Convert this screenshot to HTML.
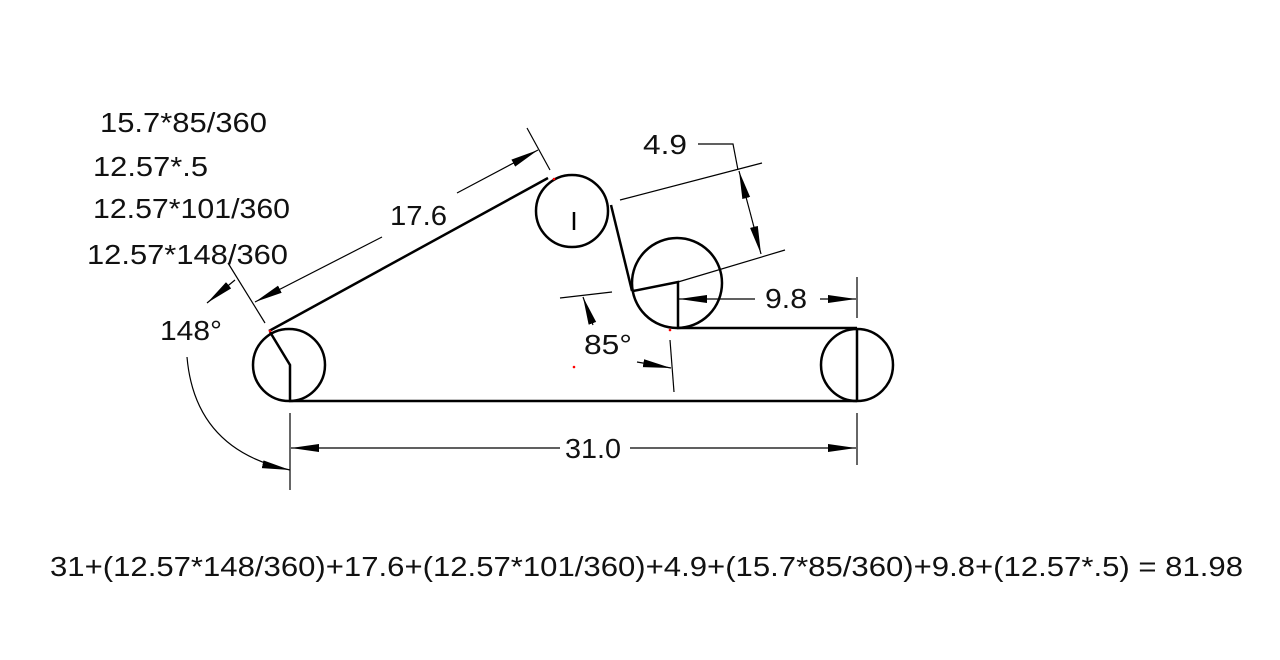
<!DOCTYPE html>
<html><head><meta charset="utf-8"><style>
html,body{margin:0;padding:0;background:#fff;width:1280px;height:660px;overflow:hidden}
svg text{font-family:"Liberation Sans",sans-serif;font-size:28px;fill:#111}
</style></head><body>
<svg width="1280" height="660" viewBox="0 0 1280 660" xmlns="http://www.w3.org/2000/svg">
<defs>
<marker id="a" viewBox="0 0 28 10" refX="28" refY="5" markerWidth="28" markerHeight="10" markerUnits="userSpaceOnUse" orient="auto-start-reverse"><path d="M0,1 L28,5 L0,9 Z" fill="#000"/></marker>
</defs>
<g fill="none" stroke="#000" stroke-width="2.5">
<circle cx="289" cy="365" r="36"/>
<circle cx="572" cy="211" r="36"/>
<circle cx="677" cy="283" r="45"/>
<circle cx="857" cy="365" r="36"/>
<line x1="289" y1="401" x2="857" y2="401"/>
<line x1="269" y1="331" x2="548" y2="178"/>
<line x1="611" y1="205" x2="632" y2="291"/>
<line x1="677" y1="328" x2="857" y2="328"/>
<polyline points="633,291 678,282 678,328"/>
<polyline points="270,332 290,365 290,402"/>
<line x1="574" y1="212" x2="574" y2="230"/>
<line x1="857" y1="328" x2="857" y2="402"/>
</g>
<g fill="none" stroke="#000" stroke-width="1.2">
<line x1="228" y1="263" x2="265" y2="323"/>
<line x1="527" y1="128" x2="550" y2="170"/>
<line x1="382" y1="237" x2="255" y2="302" marker-end="url(#a)"/>
<line x1="457" y1="193" x2="538" y2="150" marker-end="url(#a)"/>
<line x1="235" y1="280" x2="207" y2="303" marker-end="url(#a)"/>
<path d="M187,357 Q195,450 290,470" marker-end="url(#a)"/>
<line x1="290" y1="413" x2="290" y2="490"/>
<line x1="857" y1="413" x2="857" y2="465"/>
<line x1="560" y1="448" x2="291" y2="448" marker-end="url(#a)"/>
<line x1="630" y1="448" x2="856" y2="448" marker-end="url(#a)"/>
<line x1="620" y1="200" x2="762" y2="163"/>
<line x1="678" y1="282" x2="785" y2="250"/>
<polyline points="698,144 733,144 738,170"/>
<line x1="750" y1="212" x2="739" y2="171" marker-end="url(#a)"/>
<line x1="750" y1="212" x2="761" y2="254" marker-end="url(#a)"/>
<line x1="857" y1="277" x2="857" y2="318"/>
<line x1="755" y1="299" x2="679" y2="299" marker-end="url(#a)"/>
<line x1="820" y1="299" x2="856" y2="299" marker-end="url(#a)"/>
<line x1="560" y1="298" x2="612" y2="292"/>
<line x1="670" y1="340" x2="674" y2="392"/>
<line x1="593" y1="325" x2="583" y2="297" marker-end="url(#a)"/>
<line x1="637" y1="362" x2="671" y2="368" marker-end="url(#a)"/>
</g>
<g fill="red"><circle cx="574" cy="367" r="1.3"/><circle cx="270" cy="331" r="1.3"/><circle cx="554" cy="179" r="1.3"/><circle cx="670" cy="330" r="1.3"/></g>
<text x="100" y="132" textLength="167" lengthAdjust="spacingAndGlyphs">15.7*85/360</text>
<text x="93" y="176" textLength="115" lengthAdjust="spacingAndGlyphs">12.57*.5</text>
<text x="93" y="218" textLength="197" lengthAdjust="spacingAndGlyphs">12.57*101/360</text>
<text x="87" y="264" textLength="201" lengthAdjust="spacingAndGlyphs">12.57*148/360</text>
<text x="390" y="225" textLength="57" lengthAdjust="spacingAndGlyphs">17.6</text>
<text x="160" y="340" textLength="62" lengthAdjust="spacingAndGlyphs">148°</text>
<text x="565" y="458" textLength="56" lengthAdjust="spacingAndGlyphs">31.0</text>
<text x="643" y="154" textLength="44" lengthAdjust="spacingAndGlyphs">4.9</text>
<text x="765" y="308" textLength="42" lengthAdjust="spacingAndGlyphs">9.8</text>
<text x="584" y="354" textLength="48" lengthAdjust="spacingAndGlyphs">85°</text>
<text x="50" y="576" textLength="1193" lengthAdjust="spacingAndGlyphs">31+(12.57*148/360)+17.6+(12.57*101/360)+4.9+(15.7*85/360)+9.8+(12.57*.5) = 81.98</text>
</svg>
</body></html>
